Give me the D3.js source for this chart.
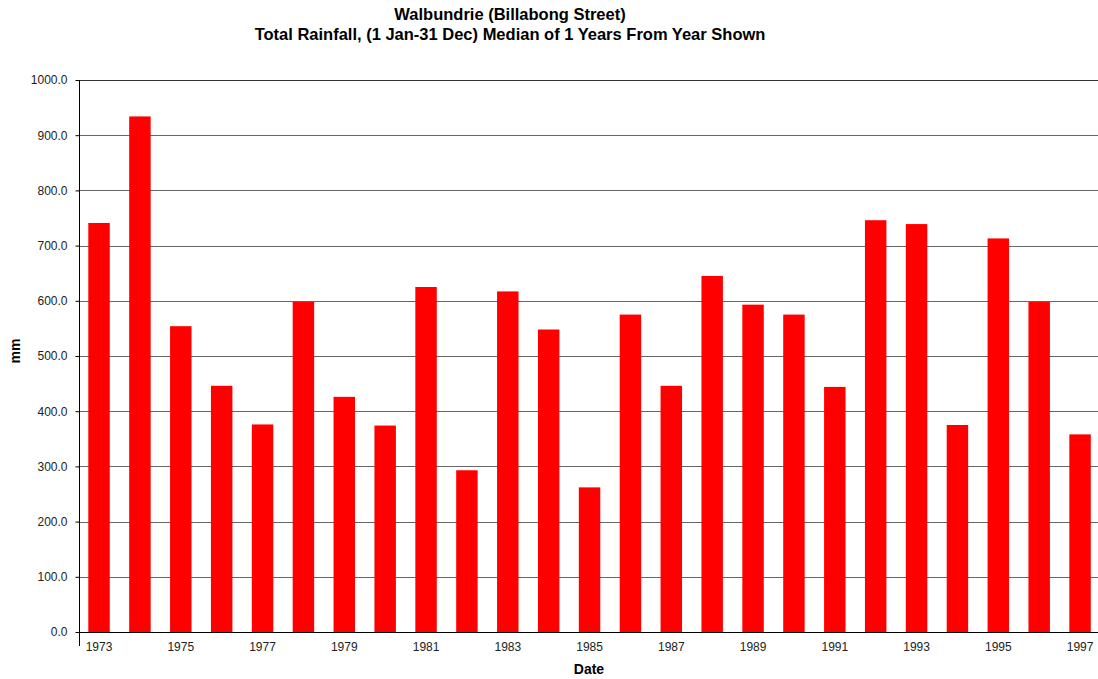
<!DOCTYPE html>
<html><head><meta charset="utf-8">
<script src="https://cdn.jsdelivr.net/npm/d3@7"></script>
<style>body{margin:0;background:#fff;}svg{display:block;font-family:"Liberation Sans",Arial,sans-serif;}</style>
</head><body><svg id="c" width="1098" height="679"></svg>
<script>
const years = [1973,1974,1975,1976,1977,1978,1979,1980,1981,1982,1983,1984,1985,1986,1987,1988,1989,1990,1991,1992,1993,1994,1995,1996,1997];
const rainfall = [741,934,554,446,376,598,426,374,625,293,617,548,262,575,446,645,593,575,444,746,739,375,713,598,358];
const yTicks = [0,100,200,300,400,500,600,700,800,900,1000];
const xTickYears = [1973,1975,1977,1979,1981,1983,1985,1987,1989,1991,1993,1995,1997];
const titleLines = ["Walbundrie (Billabong Street)","Total Rainfall, (1 Jan-31 Dec) Median of 1 Years From Year Shown"];

const svg = d3.select("#c");
const L = 78.6, R = 1100.5, T = 80, B = 632;
const x = d3.scaleBand().domain(years).range([L, R]).paddingInner(0.475).paddingOuter(0.2375);
const y = d3.scaleLinear().domain([0,1000]).range([B, T]);

// gridlines
svg.append("g").selectAll("line").data(yTicks.filter(d=>d>0)).join("line")
  .attr("x1", L).attr("x2", 1098).attr("y1", d=>Math.round(y(d))+0.5).attr("y2", d=>Math.round(y(d))+0.5)
  .attr("stroke", d=>d===1000?"#333":"#666").attr("stroke-width",1);

// bars
svg.append("g").selectAll("rect").data(years).join("rect")
  .attr("x", d=>x(d)).attr("width", x.bandwidth())
  .attr("y", (d,i)=>y(rainfall[i])).attr("height", (d,i)=>B - y(rainfall[i]))
  .attr("fill", "#ff0000");

// x axis baseline
svg.append("line").attr("x1", L).attr("x2", 1098).attr("y1", B+0.5).attr("y2", B+0.5).attr("stroke","#000");

// y axis
const yAxis = d3.axisLeft(y).tickValues(yTicks).tickFormat(d3.format(".1f")).tickSize(4).tickPadding(8);
const ya = svg.append("g").attr("transform", `translate(${Math.round(L)+0.5},0)`).call(yAxis);
ya.select(".domain").remove();
ya.selectAll("text").attr("font-size", 12).attr("fill", "#222").attr("font-family", "Liberation Sans, Arial, sans-serif");
ya.selectAll("line").attr("stroke", "#000");
svg.append("line").attr("x1", Math.round(L)+0.5).attr("x2", Math.round(L)+0.5).attr("y1", T).attr("y2", 646).attr("stroke","#000");

// x tick labels
const xAxis = d3.axisBottom(x).tickValues(xTickYears).tickSize(0).tickPadding(10);
const xa = svg.append("g").attr("transform", `translate(0,${B})`).call(xAxis);
xa.select(".domain").remove();
xa.selectAll("text").attr("font-size", 12).attr("fill", "#222").attr("font-family", "Liberation Sans, Arial, sans-serif");

// titles
svg.append("g").selectAll("text").data(titleLines).join("text")
  .attr("x", 510).attr("y", (d,i)=>20 + i*20).attr("text-anchor","middle")
  .attr("font-weight","bold").attr("font-size", 16.5).attr("fill","#000").text(d=>d);

// axis titles
svg.append("text").attr("x", 589).attr("y", 674).attr("text-anchor","middle").attr("font-weight","bold").attr("font-size",14).text("Date");
svg.append("text").attr("transform","translate(20,351) rotate(-90)").attr("text-anchor","middle").attr("font-weight","bold").attr("font-size",14).text("mm");
</script></body></html>
